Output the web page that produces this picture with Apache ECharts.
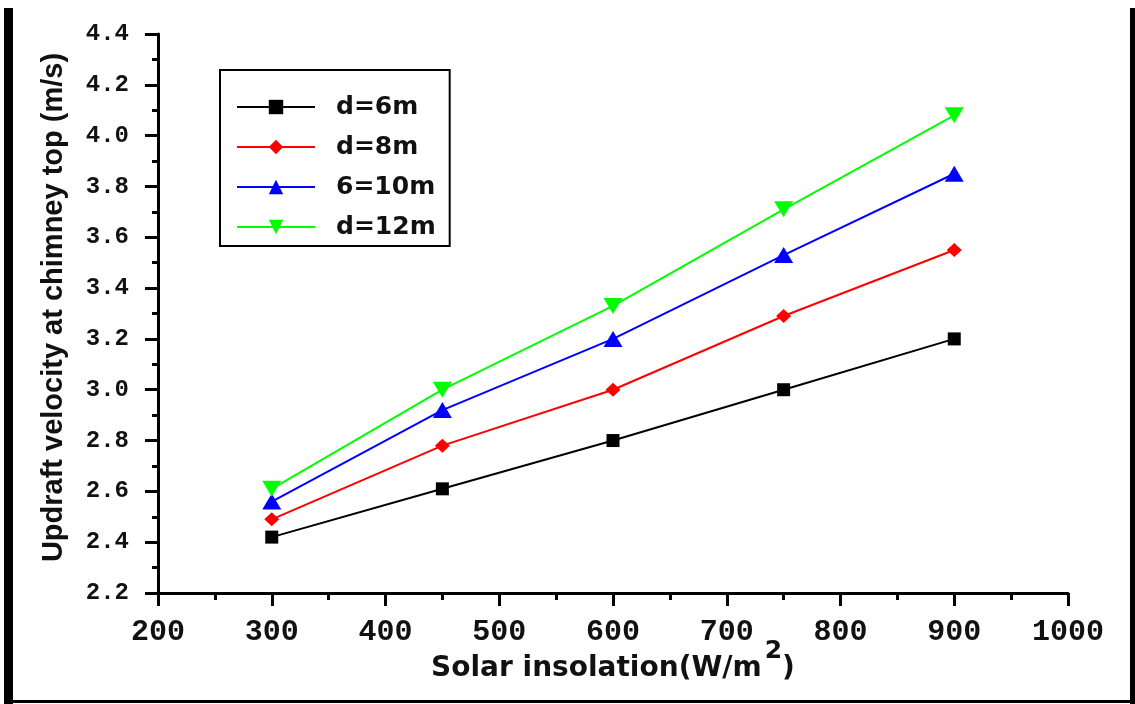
<!DOCTYPE html>
<html>
<head>
<meta charset="utf-8">
<script src="https://cdn.jsdelivr.net/npm/echarts@6/dist/echarts.min.js"></script>
<style>
  html, body { margin: 0; padding: 0; background: #fff; }
  #chart { width: 1135px; height: 704px; }
</style>
</head>
<body>
<div id="chart"></div>
<script>
// Solar insolation (W/m2) on the x axis
const insolation = [300, 450, 600, 750, 900];

// Updraft velocity at the chimney top (m/s) for each chimney diameter
const d6m  = [2.42, 2.61, 2.80, 3.00, 3.20];
const d8m  = [2.49, 2.78, 3.00, 3.29, 3.55];
const d10m = [2.56, 2.92, 3.20, 3.53, 3.85];
const d12m = [2.61, 3.00, 3.33, 3.71, 4.08];

const seriesNames = ['d=6m', 'd=8m', '6=10m', 'd=12m'];

// axis ranges and steps
const xMin = 200, xMax = 1000, xStep = 100;
const yMin = 2.2, yMax = 4.4, yStep = 0.2;

const pairs = ys => insolation.map((x, i) => [x, ys[i]]);

const chart = echarts.init(document.getElementById('chart'), null, { renderer: 'canvas' });

const axisText = '"Liberation Mono", "DejaVu Sans Mono", monospace';
const titleFont = '"DejaVu Sans", "Liberation Sans", sans-serif';

function line(name, ys, color, symbol, size, rotate) {
  return {
    name: name,
    type: 'line',
    data: pairs(ys),
    symbol: symbol,
    symbolSize: size,
    symbolRotate: rotate || 0,
    showAllSymbol: true,
    lineStyle: { color: color, width: 2 },
    itemStyle: { color: color },
    emphasis: { disabled: true },
    animation: false
  };
}

chart.setOption({
  backgroundColor: '#fff',
  animation: false,
  grid: { left: 158, right: 67, top: 34, bottom: 111, containLabel: false },
  legend: {
    orient: 'vertical',
    left: 220,
    top: 70,
    width: 233,
    padding: [24, 14, 6, 16],
    borderColor: '#000',
    borderWidth: 2,
    itemWidth: 78,
    itemHeight: 18,
    itemGap: 14,
    data: seriesNames,
    textStyle: {
      fontFamily: titleFont,
      fontWeight: 'bold',
      fontSize: 25,
      color: '#111',
      padding: [0, 0, 0, 16],
      lineHeight: 26
    },
    selectedMode: false
  },
  xAxis: {
    type: 'value',
    min: xMin,
    max: xMax,
    interval: xStep,
    name: '{a|Solar insolation(W/m}{s|2}{a|)}',
    nameLocation: 'middle',
    nameGap: 46,
    nameMoveOverlap: false,
    nameTextStyle: {
      rich: {
        a: { fontFamily: titleFont, fontWeight: 'bold', fontSize: 28, color: '#111', verticalAlign: 'bottom' },
        s: { fontFamily: titleFont, fontWeight: 'bold', fontSize: 25, color: '#111', verticalAlign: 'bottom', padding: [0, 0, 19, 3] }
      }
    },
    axisLine: { show: true, onZero: false, lineStyle: { color: '#000', width: 3 } },
    axisTick: { show: true, inside: false, length: 13, lineStyle: { color: '#000', width: 3 } },
    minorTick: { show: true, splitNumber: 2, length: 7, lineStyle: { color: '#000', width: 3 } },
    splitLine: { show: false },
    axisLabel: {
      margin: 24,
      fontFamily: axisText,
      fontWeight: 'bold',
      fontSize: 30,
      color: '#111',
      formatter: v => String(v)
    }
  },
  yAxis: {
    type: 'value',
    min: yMin,
    max: yMax,
    interval: yStep,
    name: 'Updraft velocity at chimney top (m/s)',
    nameLocation: 'middle',
    nameRotate: 90,
    nameGap: 90,
    nameMoveOverlap: false,
    nameTextStyle: {
      fontFamily: '"Liberation Sans", Arial, sans-serif',
      fontWeight: 'bold',
      fontSize: 29,
      color: '#111',
      padding: [0, 0, 0, 12]
    },
    axisLine: { show: true, onZero: false, lineStyle: { color: '#000', width: 3 } },
    axisTick: { show: true, inside: false, length: 13, lineStyle: { color: '#000', width: 3 } },
    minorTick: { show: true, splitNumber: 2, length: 6, lineStyle: { color: '#000', width: 3 } },
    splitLine: { show: false },
    axisLabel: {
      margin: 29,
      fontFamily: axisText,
      fontWeight: 'bold',
      fontSize: 24,
      color: '#111',
      formatter: v => v.toFixed(1)
    }
  },
  graphic: [
    // page frame: heavy bars at both sides and a thin rule along the bottom
    { type: 'rect', shape: { x: 4, y: 8, width: 9, height: 696 }, style: { fill: '#000' }, silent: true },
    { type: 'rect', shape: { x: 1130, y: 8, width: 5, height: 696 }, style: { fill: '#000' }, silent: true },
    { type: 'rect', shape: { x: 4, y: 700, width: 1131, height: 3 }, style: { fill: '#000' }, silent: true }
  ],
  series: [
    line(seriesNames[0], d6m, '#000000', 'rect', 13),
    line(seriesNames[1], d8m, '#ff0000', 'diamond', [15, 14]),
    line(seriesNames[2], d10m, '#0000ff', 'triangle', [19, 16]),
    line(seriesNames[3], d12m, '#00ff00', 'triangle', [19, 16], 180)
  ]
});
</script>
</body>
</html>
